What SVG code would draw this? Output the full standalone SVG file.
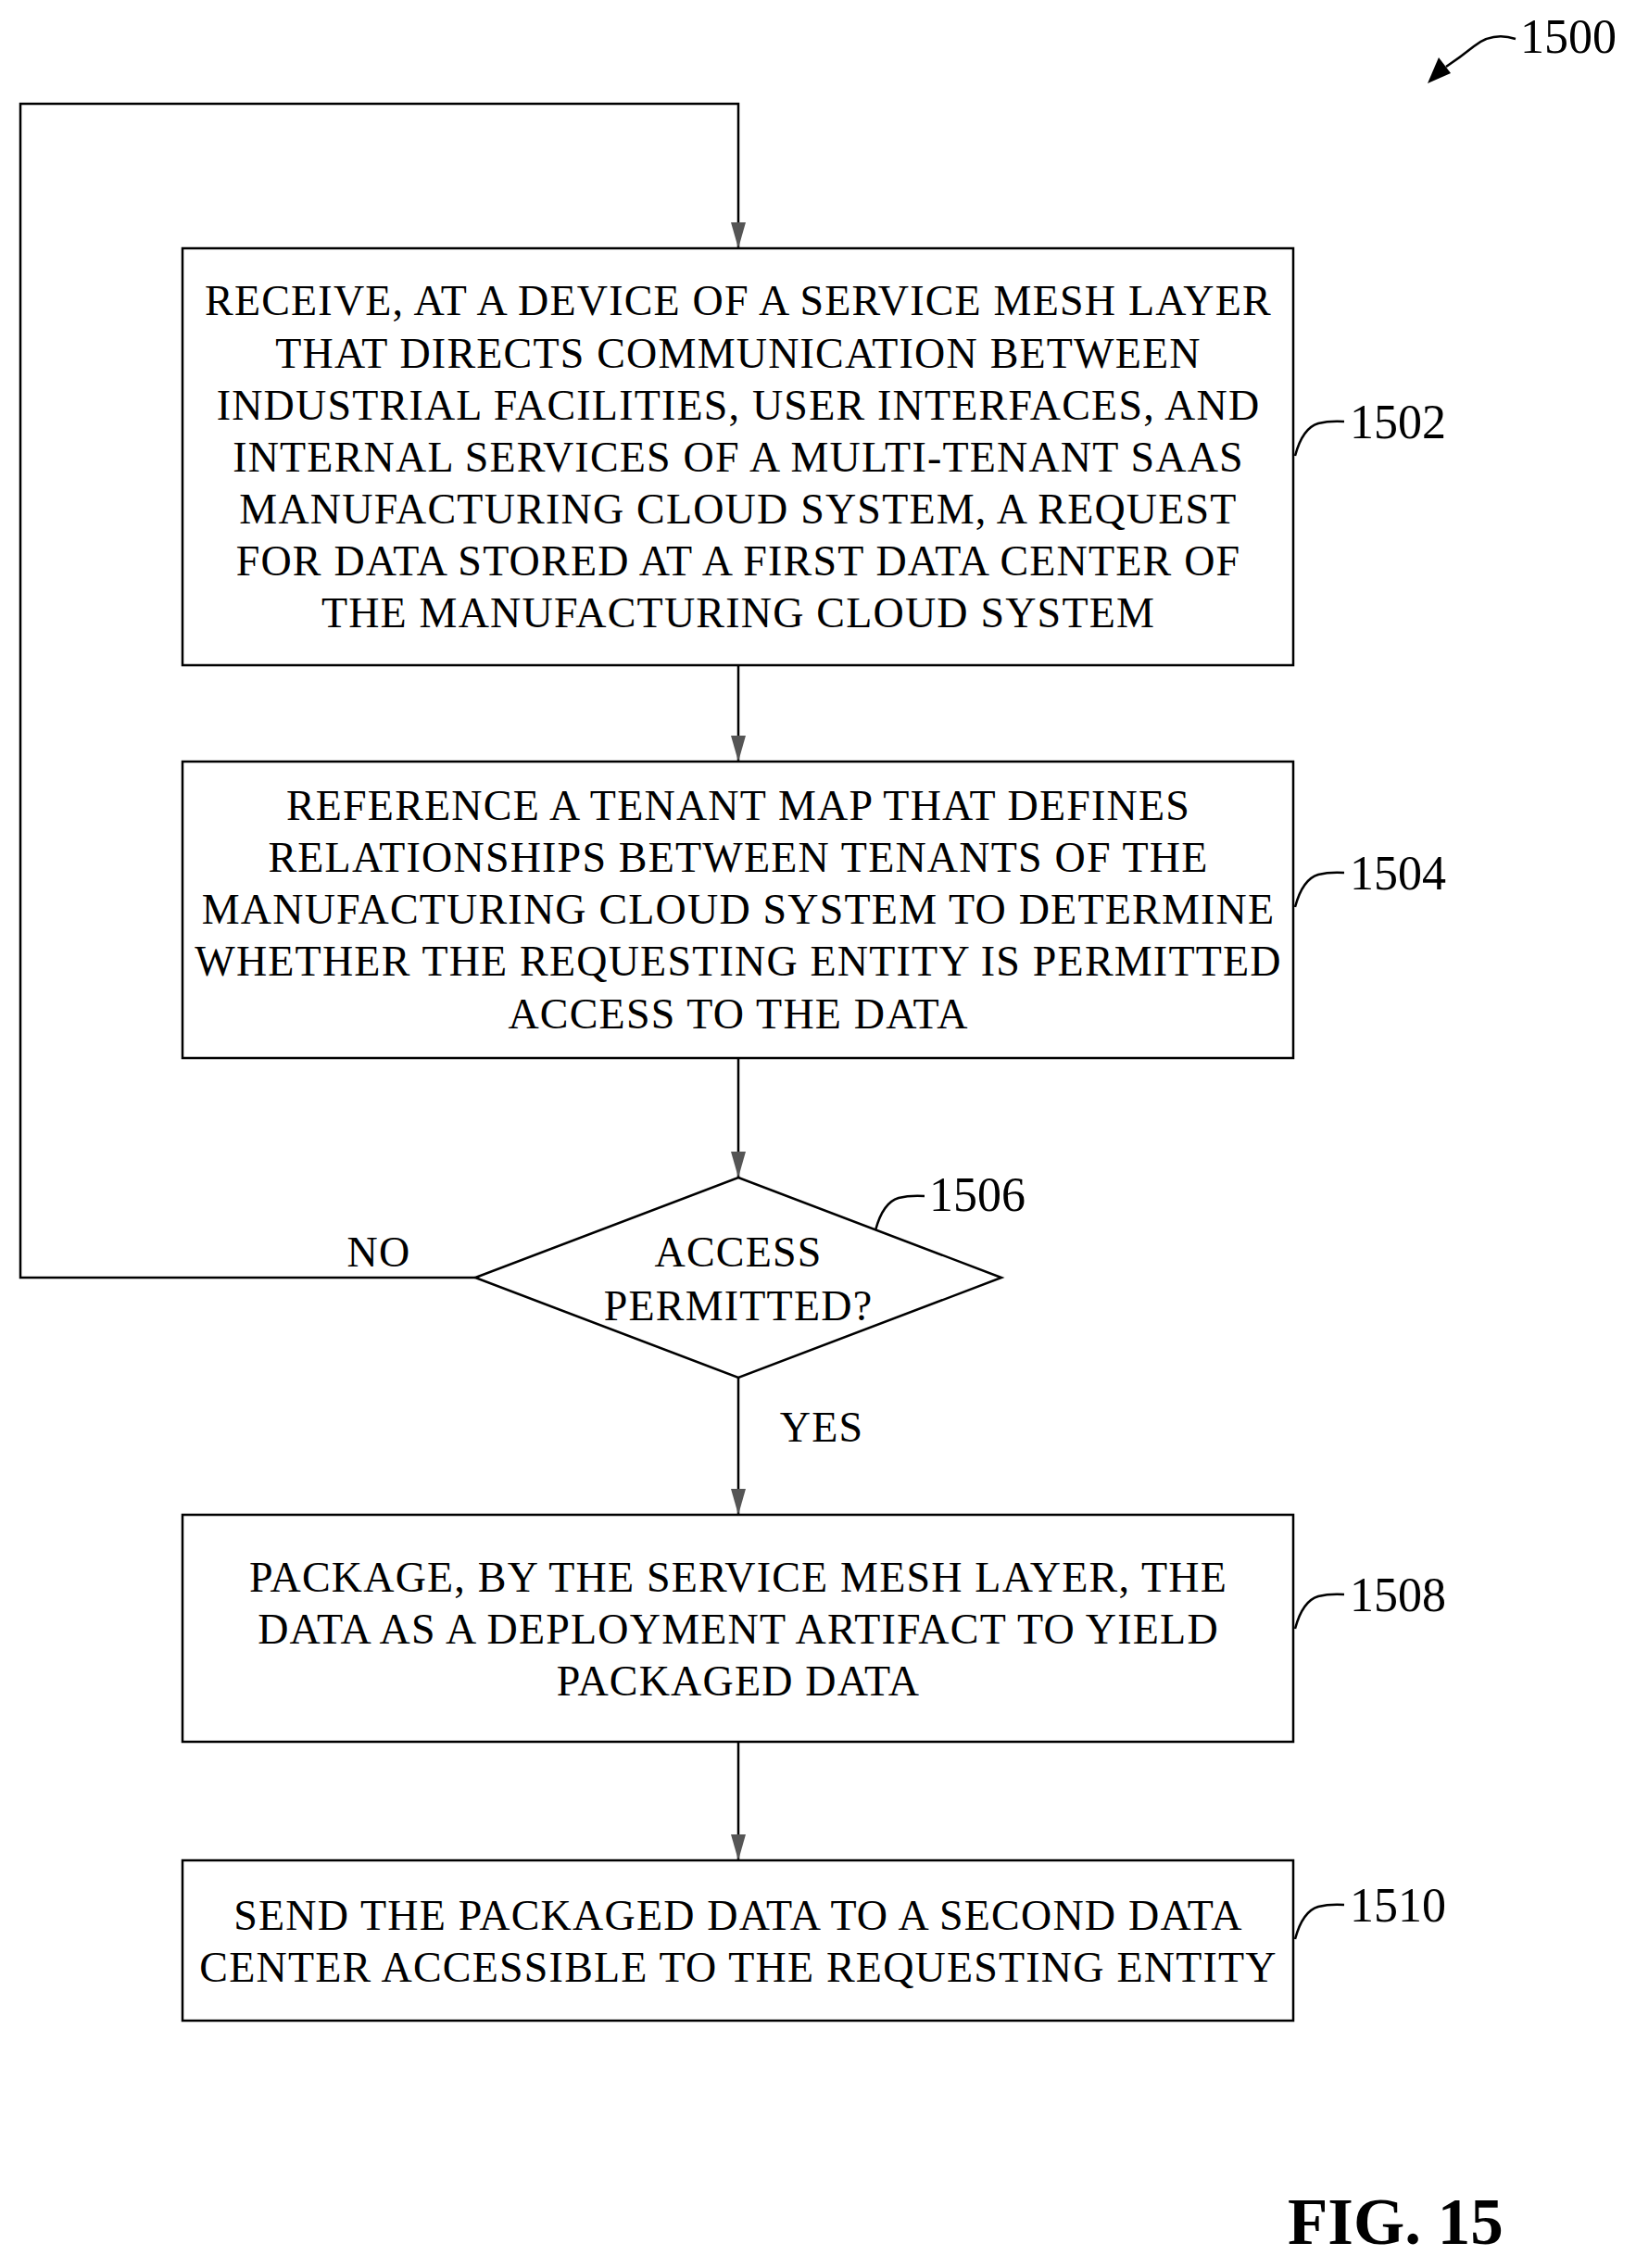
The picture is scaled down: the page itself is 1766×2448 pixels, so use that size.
<svg xmlns="http://www.w3.org/2000/svg" width="1766" height="2448" viewBox="0 0 1766 2448">
<style>
.b{fill:#fff;stroke:#000;stroke-width:2.5}
.t{font-family:"Liberation Serif",serif;font-size:46px;letter-spacing:1.2px;text-anchor:middle;dominant-baseline:central;fill:#000}
.l{font-family:"Liberation Serif",serif;font-size:52px;dominant-baseline:central;fill:#000}
.c{fill:none;stroke:#000;stroke-width:2.5}
</style>
<g id="connectors">
<path class="c" d="M513,1379 H22 V112 H797 V268"/>
<path class="c" d="M797,718 V822"/>
<path class="c" d="M797,1142 V1271"/>
<path class="c" d="M797,1487 V1635"/>
<path class="c" d="M797,1880 V2008"/>
</g>
<g id="arrowheads" fill="#555">
<path d="M789,240 L805,240 L797,268 Z"/>
<path d="M789,794 L805,794 L797,822 Z"/>
<path d="M789,1243 L805,1243 L797,1271 Z"/>
<path d="M789,1607 L805,1607 L797,1635 Z"/>
<path d="M789,1980 L805,1980 L797,2008 Z"/>
</g>
<g id="n1502"><rect class="b" x="197" y="268" width="1199" height="450"/>
<text class="t" x="797" y="324">RECEIVE, AT A DEVICE OF A SERVICE MESH LAYER</text>
<text class="t" x="797" y="381">THAT DIRECTS COMMUNICATION BETWEEN</text>
<text class="t" x="797" y="437">INDUSTRIAL FACILITIES, USER INTERFACES, AND</text>
<text class="t" x="797" y="493">INTERNAL SERVICES OF A MULTI-TENANT SAAS</text>
<text class="t" x="797" y="549">MANUFACTURING CLOUD SYSTEM, A REQUEST</text>
<text class="t" x="797" y="605">FOR DATA STORED AT A FIRST DATA CENTER OF</text>
<text class="t" x="797" y="661">THE MANUFACTURING CLOUD SYSTEM</text>
<path class="c" d="M1398,492 q8,-30 25,-35 q12,-3 28,-2"/><text class="l" x="1457" y="455">1502</text></g>
<g id="n1504"><rect class="b" x="197" y="822" width="1199" height="320"/>
<text class="t" x="797" y="869">REFERENCE A TENANT MAP THAT DEFINES</text>
<text class="t" x="797" y="925">RELATIONSHIPS BETWEEN TENANTS OF THE</text>
<text class="t" x="797" y="981">MANUFACTURING CLOUD SYSTEM TO DETERMINE</text>
<text class="t" x="797" y="1037">WHETHER THE REQUESTING ENTITY IS PERMITTED</text>
<text class="t" x="797" y="1094">ACCESS TO THE DATA</text>
<path class="c" d="M1398,979 q8,-30 25,-35 q12,-3 28,-2"/><text class="l" x="1457" y="942">1504</text></g>
<g id="n1506"><path class="b" d="M797,1271 L1081,1379 L797,1487 L513,1379 Z"/>
<text class="t" x="797" y="1351">ACCESS</text>
<text class="t" x="797" y="1409">PERMITTED?</text>
<path class="c" d="M945,1328 q8,-30 25,-35 q12,-3 28,-2"/><text class="l" x="1003" y="1289">1506</text></g>
<text class="t" x="409" y="1351">NO</text>
<text class="t" x="887" y="1540">YES</text>
<g id="n1508"><rect class="b" x="197" y="1635" width="1199" height="245"/>
<text class="t" x="797" y="1702">PACKAGE, BY THE SERVICE MESH LAYER, THE</text>
<text class="t" x="797" y="1758">DATA AS A DEPLOYMENT ARTIFACT TO YIELD</text>
<text class="t" x="797" y="1814">PACKAGED DATA</text>
<path class="c" d="M1398,1758 q8,-30 25,-35 q12,-3 28,-2"/><text class="l" x="1457" y="1721">1508</text></g>
<g id="n1510"><rect class="b" x="197" y="2008" width="1199" height="173"/>
<text class="t" x="797" y="2067">SEND THE PACKAGED DATA TO A SECOND DATA</text>
<text class="t" x="797" y="2123">CENTER ACCESSIBLE TO THE REQUESTING ENTITY</text>
<path class="c" d="M1398,2093 q8,-30 25,-35 q12,-3 28,-2"/><text class="l" x="1457" y="2056">1510</text></g>
<g id="ref1500"><path class="c" d="M1636,42 q-25,-8 -45,8 q-15,12 -30,22"/><path d="M1541,90 L1553,62 L1566,79 Z" fill="#000"/><text class="l" x="1641" y="39">1500</text></g>
<text x="1390" y="2398" font-family="Liberation Serif,serif" font-weight="bold" font-size="71" dominant-baseline="central">FIG. 15</text>
</svg>
